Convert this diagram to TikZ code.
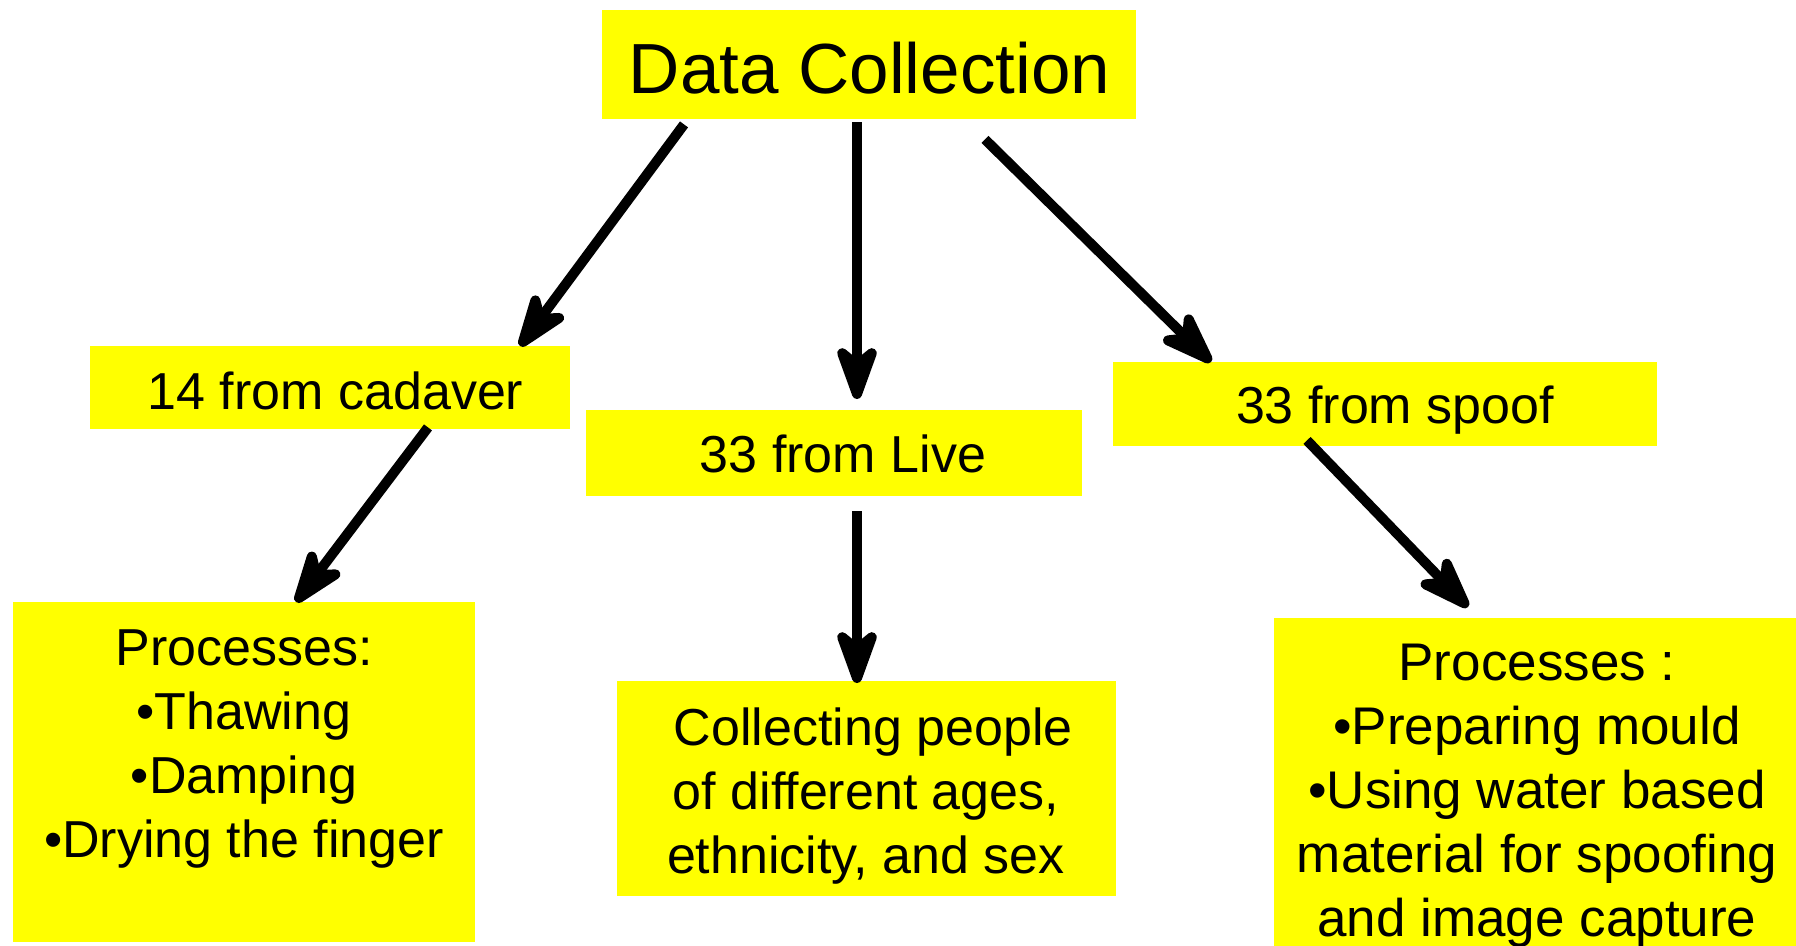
\documentclass[tikz,border=0pt]{standalone}
\usepackage{fontspec}
\setmainfont{Liberation Sans}
\usetikzlibrary{arrows.meta,calc}
\definecolor{boxyellow}{HTML}{FFFF00}
\begin{document}
\begin{tikzpicture}[x=1pt,y=-1pt,
  ybox/.style={fill=boxyellow, draw=none, inner sep=0pt, anchor=north west},
  lbl/.style={inner sep=0pt, anchor=base, font=\fontsize{52}{64}\selectfont},
  title/.style={inner sep=0pt, anchor=base, font=\fontsize{71}{85}\selectfont},
  arr/.style={line width=10pt, line cap=butt, -{Stealth[length=70pt,width=50pt,inset=20pt,round]}}]
\useasboundingbox (0,0) rectangle (1796,945);
% boxes
\node[ybox, minimum width=534pt, minimum height=109pt] (dc) at (602,10) {};
\node[ybox, minimum width=480pt, minimum height=83pt] (cad) at (90,346) {};
\node[ybox, minimum width=496pt, minimum height=86pt] (live) at (586,410) {};
\node[ybox, minimum width=544pt, minimum height=84pt] (spoof) at (1113,362) {};
\node[ybox, minimum width=462pt, minimum height=340pt] (cadp) at (13,602) {};
\node[ybox, minimum width=499pt, minimum height=215pt] (livep) at (617,681) {};
\node[ybox, minimum width=530pt, minimum height=380pt] (spoofp) at (1274,618) {};
% texts
\node[title] (tdc) at (869.5,93) {Data Collection};
\node[lbl] (tcad) at (335.5,409) {14 from cadaver};
\node[lbl] (tlive) at (843,472) {33 from Live};
\node[lbl] (tspoof) at (1395,423) {33 from spoof};
\node[lbl] (tcadp) at (244,665) {\begin{tabular}[t]{@{}c@{}}Processes:\\ •Thawing\\ •Damping\\ •Drying the finger\end{tabular}};
\node[lbl] (tlivep) at (866,745) {\begin{tabular}[t]{@{}c@{}}\ Collecting people\\ of different ages,\\ ethnicity, and sex\end{tabular}};
\node[lbl, font=\fontsize{53}{64}\selectfont] (tspoofp) at (1537,680) {\begin{tabular}[t]{@{}c@{}}Processes :\\ •Preparing mould\\ •Using water based\\ material for spoofing\\ and image capture\end{tabular}};
% arrows
\draw[arr] ($(dc.south west)+(82,5)$) -- ($(cad.north west)+(430,0)$);
\draw[arr] ($(dc.south west)+(255,3)$) -- ($(live.north west)+(271,-11)$);
\draw[arr] ($(dc.south west)+(383,20)$) -- ($(spoof.north west)+(98,0)$);
\draw[arr] ($(cad.south west)+(338,-2)$) -- ($(cadp.north west)+(283,0)$);
\draw[arr] ($(live.south west)+(271,15)$) -- ($(livep.north west)+(240,2)$);
\draw[arr] ($(spoof.south west)+(194,-6)$) -- ($(spoofp.north west)+(194,-11)$);
\end{tikzpicture}
\end{document}
